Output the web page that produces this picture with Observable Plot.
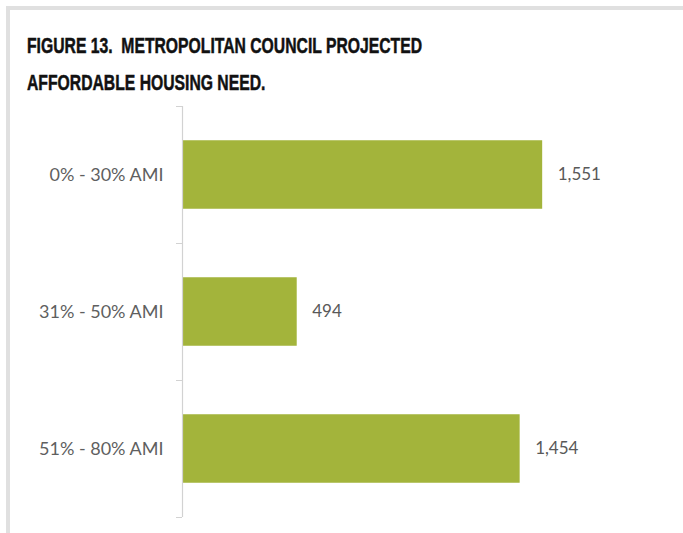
<!DOCTYPE html>
<html>
<head>
<meta charset="utf-8">
<script src="https://cdn.jsdelivr.net/npm/d3@7"></script>
<script src="https://cdn.jsdelivr.net/npm/@observablehq/plot@0.6"></script>
<style>
  html, body { margin: 0; padding: 0; background: #ffffff; overflow: hidden; }
  #page { position: relative; width: 683px; height: 533px; overflow: hidden; background: #fff; }
  #frame { position: absolute; left: 6px; top: 6px; width: 677px; height: 527px;
           border-top: 4px solid #e0e0e0; border-left: 4px solid #e0e0e0; box-sizing: border-box; }
  #title { position: absolute; left: 27px; top: 27px; margin: 0;
           font-family: "Liberation Sans", Arial, sans-serif;
           font-weight: bold; font-size: 22px; line-height: 37px; color: #111;
           -webkit-text-stroke: 0.5px #111; }
  #title span { display: inline-block; transform-origin: 0 50%; white-space: pre; }
  #chart { position: absolute; left: 0; top: 100px; }
</style>
</head>
<body>
<div id="page">
  <div id="frame"></div>
  <h2 id="title"><span id="t1">FIGURE 13.  METROPOLITAN COUNCIL PROJECTED</span><br><span id="t2">AFFORDABLE HOUSING NEED.</span></h2>
  <div id="chart"></div>
</div>
<script>
const categories = ["0% - 30% AMI", "31% - 50% AMI", "51% - 80% AMI"];
const values = [1551, 494, 1454];
const valueLabels = ["1,551", "494", "1,454"];

// condense the title to match the narrow headline face
const t1 = document.getElementById("t1"), t2 = document.getElementById("t2");
const k = 395 / t1.getBoundingClientRect().width;
t1.style.transform = `scaleX(${k})`;
t2.style.transform = `scaleX(${k})`;

const rows = categories.map((c, i) => ({
  category: c,
  value: values[i],
  label: valueLabels[i],
  center: i + 0.5,
  y1: i + 0.25,
  y2: i + 0.75
}));
const boundaries = d3.range(categories.length + 1);

const font = "Lato, 'Open Sans', sans-serif";
const plot = Plot.plot({
  width: 683,
  height: 433,
  marginTop: 6,
  marginBottom: 16,
  marginLeft: 182,
  marginRight: 83,
  style: { fontFamily: font, fontSize: "17px", color: "#595959", background: "transparent" },
  x: { domain: [0, 1800], axis: null },
  y: { domain: [0, categories.length], reverse: true, axis: null },
  marks: [
    Plot.rectX(rows, { x1: 0, x2: "value", y1: "y1", y2: "y2", fill: "#a3b43b" }),
    Plot.ruleX([0], { stroke: "#d2d2d2", strokeWidth: 1.2 }),
    Plot.axisY({ ticks: boundaries, tickSize: 6, tickFormat: () => "", stroke: "#d2d2d2" }),
    Plot.axisY({ ticks: rows.map(d => d.center), tickSize: 0, tickPadding: 19,
                 tickFormat: v => categories[Math.floor(v)], fill: "#5f5f5f", fontSize: 18 }),
    Plot.text(rows, { x: "value", y: "center", text: "label", textAnchor: "start", dx: 15,
                      fill: "#595959", fontSize: 17 })
  ]
});
document.getElementById("chart").appendChild(plot);
</script>
</body>
</html>
